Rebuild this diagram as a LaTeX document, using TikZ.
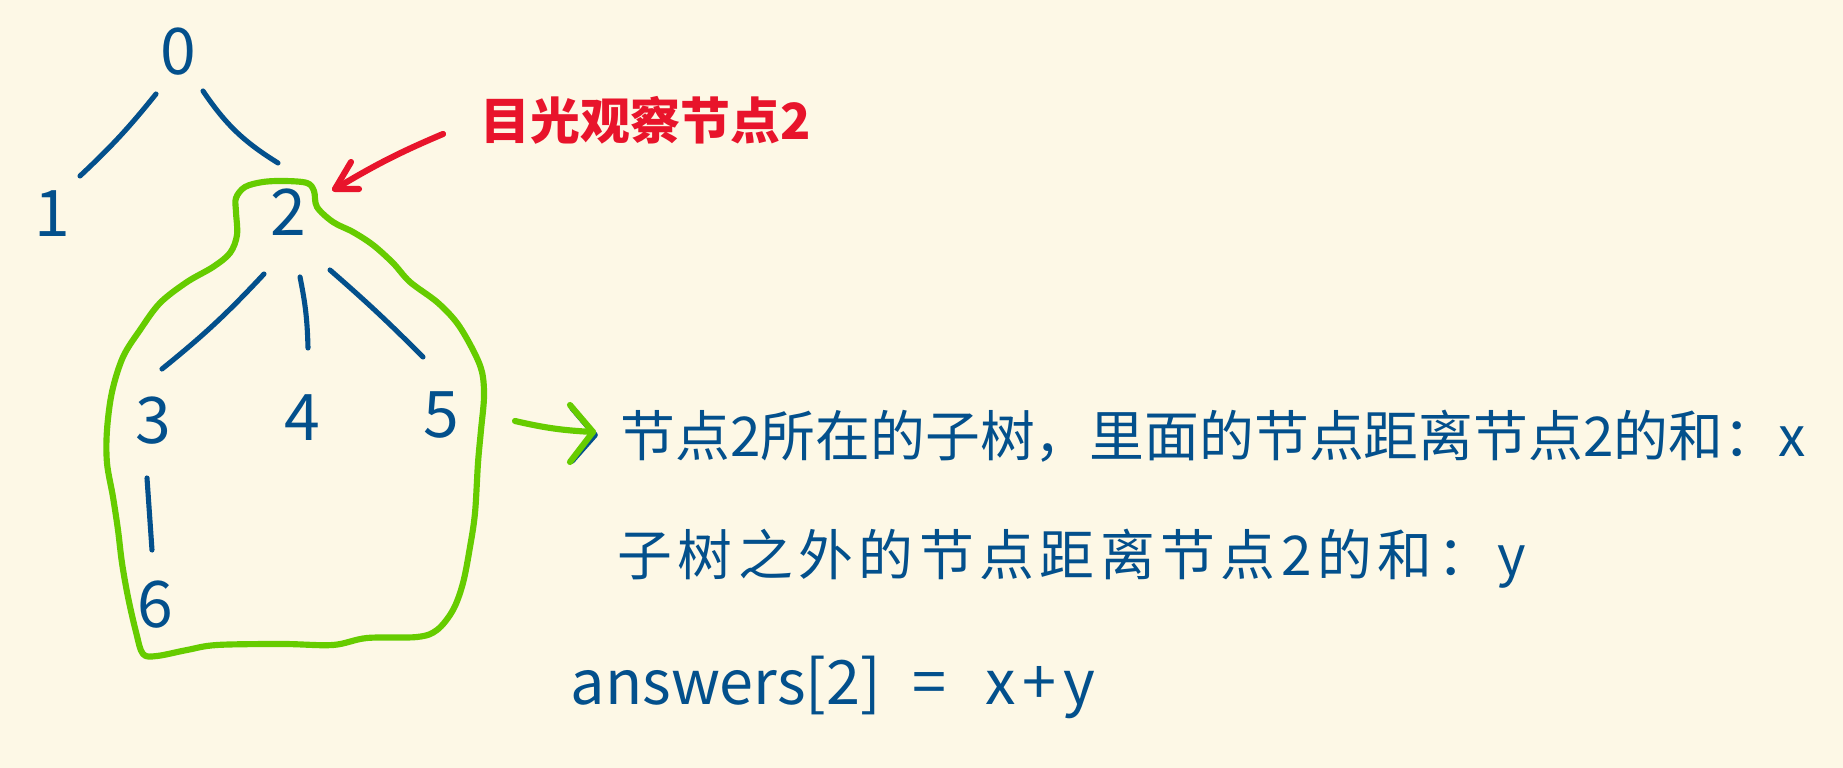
\documentclass[tikz,border=0pt]{standalone}
\usepackage{fontspec}
\setmainfont{Noto Sans CJK SC}
\newfontfamily\cjkwide[LetterSpace=10]{Noto Sans CJK SC}
\definecolor{bg}{HTML}{FDF8E6}
\definecolor{ink}{HTML}{03508C}
\definecolor{leaf}{HTML}{66CC00}
\definecolor{alert}{HTML}{E8142B}
\tikzset{
  digit/.style={text=ink, inner sep=0pt, font=\fontsize{18.3}{20}\selectfont},
  treeedge/.style={draw=ink, line width=1.45pt, line cap=round},
  hull/.style={draw=leaf, line width=1.75pt, line join=round},
  greenpen/.style={draw=leaf, line width=1.75pt, line cap=round, line join=round},
  shadowpen/.style={draw=ink, line width=1.6pt, line cap=round, line join=round},
  redpen/.style={draw=alert, line width=1.75pt, line cap=round, line join=round},
  notetext/.style={text=ink, anchor=base west, inner sep=0pt, font=\fontsize{15.6}{18}\selectfont},
  redtext/.style={text=alert, anchor=base west, inner sep=0pt, font=\bfseries\fontsize{14.2}{16}\selectfont},
}
\begin{document}
\begin{tikzpicture}[x=0.1mm, y=-0.1mm]
\fill[bg] (0,0) rectangle (1843,768);
\useasboundingbox (0,0) rectangle (1843,768);

% tree nodes
\node[digit] (n0) at (178,52) {0};
\node[digit] (n1) at (52,214) {1};
\node[digit] (n2) at (288,212) {2};
\node[digit] (n3) at (153,421) {3};
\node[digit] (n4) at (302,418) {4};
\node[digit] (n5) at (441,415) {5};
\node[digit] (n6) at (155,605) {6};

% edges
\draw[treeedge] ([shift={(-22,42)}]n0.center) to[bend left=4] ([shift={(28,-38)}]n1.center);
\draw[treeedge] ([shift={(25,39)}]n0.center) to[bend right=12] ([shift={(-10,-49)}]n2.center);
\draw[treeedge] ([shift={(-24,62)}]n2.center) to[bend left=4] ([shift={(9,-52)}]n3.center);
\draw[treeedge] ([shift={(12,65)}]n2.center) to[bend left=5] ([shift={(6,-70)}]n4.center);
\draw[treeedge] ([shift={(42,58)}]n2.center) to[bend left=2] ([shift={(-18,-58)}]n5.center);
\draw[treeedge] ([shift={(-6,57)}]n3.center) -- ([shift={(-3,-55)}]n6.center);

% subtree outline
\draw[hull] plot[smooth cycle, tension=0.55] coordinates {
 (236,198) (245,187) (263,182) (285,181) (307,183) (314,191) (317,207)
 (333,222) (353,232) (373,245) (393,263) (410,282) (437,302) (457,323)
 (473,350) (482,372) (484,397) (481,430) (478,463) (475,513) (470,547)
 (463,583) (453,610) (437,630) (417,637) (367,638) (333,645) (283,644)
 (217,645) (187,650) (157,656) (143,654) (136,632) (128,597) (122,563)
 (118,530) (113,497) (107,463) (107,430) (112,392) (123,357) (140,330)
 (160,303) (187,282) (213,267) (230,253) (237,235) (236,212)};

% red label and arrow
\node[redtext] (look) at (480,140) {目光观察节点2};
\draw[redpen] ([shift={(-37,-6)}]look.base west) to[bend right=4] ([shift={(47,-23)}]n2.center);
\draw[redpen] ([shift={(63,-50)}]n2.center) -- ([shift={(47,-23)}]n2.center) -- ([shift={(71,-23)}]n2.center);

% explanation text
\node[notetext] (sub) at (620,457) {节点2所在的子树，里面的节点距离节点2的和：x};
\node[notetext, font=\cjkwide\fontsize{15.6}{18}\selectfont] (out) at (617,576) {子树之外的节点距离节点2的和：y};
\node[notetext, font=\fontsize{17.4}{20}\selectfont] (ans) at (570,705) {answers[2]\hspace{9pt}=\hspace{11pt}x\hspace{2pt}+\hspace{2pt}y};

% green arrow from subtree to text
\draw[shadowpen] ([shift={(-48,-49)}]sub.base west) -- ([shift={(-25,-22)}]sub.base west) -- ([shift={(-48,4)}]sub.base west);
\draw[greenpen] ([shift={(74,6)}]n5.center) to[bend right=5] ([shift={(-27,-25)}]sub.base west);
\draw[greenpen] ([shift={(-50,-52)}]sub.base west) -- ([shift={(-27,-25)}]sub.base west) -- ([shift={(-50,5)}]sub.base west);
\end{tikzpicture}
\end{document}
